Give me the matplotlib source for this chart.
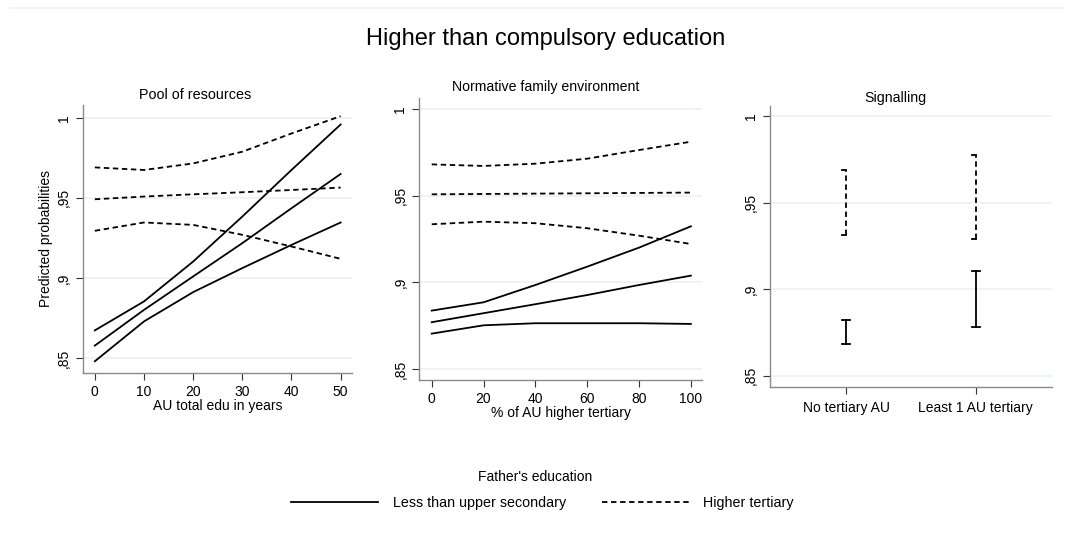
import numpy as np
import matplotlib.pyplot as plt
from matplotlib.lines import Line2D

# Predicted probabilities by father's education (solid: less than upper secondary, dashed: higher tertiary)
# Each series: lower CI, estimate, upper CI

# Pool of resources
pool_x = [0, 10, 20, 30, 40, 50]
pool_low_lo = [0.8479, 0.8728, 0.8911, 0.9061, 0.9206, 0.9346]
pool_low_mid = [0.8577, 0.8800, 0.9009, 0.9217, 0.9435, 0.9649]
pool_low_hi = [0.8672, 0.8853, 0.9102, 0.9383, 0.9674, 0.9958]
pool_high_lo = [0.9294, 0.9346, 0.9331, 0.9269, 0.9196, 0.9119]
pool_high_mid = [0.9491, 0.9508, 0.9522, 0.9535, 0.9549, 0.9564]
pool_high_hi = [0.9690, 0.9674, 0.9715, 0.9788, 0.9902, 1.0010]

# Normative family environment
norm_x = [0, 20, 40, 60, 80, 100]
norm_low_lo = [0.8704, 0.8752, 0.8764, 0.8764, 0.8764, 0.8760]
norm_low_mid = [0.8770, 0.8822, 0.8874, 0.8927, 0.8985, 0.9039]
norm_low_hi = [0.8837, 0.8885, 0.8985, 0.9091, 0.9201, 0.9324]
norm_high_lo = [0.9336, 0.9351, 0.9342, 0.9313, 0.9270, 0.9222]
norm_high_mid = [0.9509, 0.9511, 0.9513, 0.9515, 0.9517, 0.9519]
norm_high_hi = [0.9682, 0.9673, 0.9686, 0.9715, 0.9765, 0.9813]

# Signalling
sig_cats = ["No tertiary AU", "Least 1 AU tertiary"]
sig_low_lo = [0.8685, 0.8784]
sig_low_hi = [0.8822, 0.9106]
sig_high_lo = [0.9312, 0.9289]
sig_high_hi = [0.9686, 0.9774]

yticks = [0.85, 0.9, 0.95, 1.0]
ytick_labels = [",85", ",9", ",95", "1"]

grid_col = "#eaf2f3"
spine_col = "#8a8a8a"
dash = (0, (3, 2))

plt.rcParams['font.family'] = ['Liberation Sans', 'DejaVu Sans']

fig = plt.figure(figsize=(10.74, 5.4), dpi=100)
fig.add_artist(Line2D([0.008, 0.992], [0.985, 0.985], color=grid_col, lw=1.2))

ax1 = fig.add_axes([0.0773, 0.3093, 0.2504, 0.4963])
ax2 = fig.add_axes([0.3904, 0.2963, 0.2630, 0.5217])
ax3 = fig.add_axes([0.7170, 0.2828, 0.2622, 0.5209])


def style(ax, ylim):
    ax.set_ylim(*ylim)
    ax.set_yticks(yticks)
    ax.set_yticklabels(ytick_labels, rotation=90, va='center', fontsize=10)
    ax.tick_params(axis='both', direction='out', length=5, width=0.8,
                   color='#333333', labelsize=10)
    for s in ['top', 'right']:
        ax.spines[s].set_visible(False)
    for s in ['left', 'bottom']:
        ax.spines[s].set_color(spine_col)
        ax.spines[s].set_linewidth(1.0)
    for y in yticks:
        ax.axhline(y, color=grid_col, lw=1.2, zorder=0)


# Pool of resources
for s in [pool_low_lo, pool_low_mid, pool_low_hi]:
    ax1.plot(pool_x, s, color='black', lw=1.3)
for s in [pool_high_lo, pool_high_mid, pool_high_hi]:
    ax1.plot(pool_x, s, color='black', lw=1.3, linestyle=dash)
style(ax1, (0.8406, 1.008))
ax1.set_xlim(-2.4, 52.3)
ax1.set_xticks(pool_x)
ax1.set_xlabel("AU total edu in years", fontsize=10, labelpad=0)
ax1.set_ylabel("Predicted probabilities", fontsize=10, labelpad=3)
ax1.set_title("Pool of resources", fontsize=10.4, pad=4, x=0.416)

# Normative family environment
for s in [norm_low_lo, norm_low_mid, norm_low_hi]:
    ax2.plot(norm_x, s, color='black', lw=1.3)
for s in [norm_high_lo, norm_high_mid, norm_high_hi]:
    ax2.plot(norm_x, s, color='black', lw=1.3, linestyle=dash)
style(ax2, (0.8436, 1.0064))
ax2.set_xlim(-4.8, 104.2)
ax2.set_xticks(norm_x)
ax2.set_xlabel("% of AU higher tertiary", fontsize=10, labelpad=0)
ax2.set_title("Normative family environment", fontsize=10.2, pad=5, x=0.449)

# Signalling: range bars with caps
pos = np.arange(len(sig_cats))
cap = 0.03
for i in pos:
    ax3.plot([i, i], [sig_low_lo[i], sig_low_hi[i]], color='black', lw=1.3)
    for y in (sig_low_lo[i], sig_low_hi[i]):
        ax3.plot([i - cap, i + cap], [y, y], color='black', lw=1.3)
    ax3.plot([i, i], [sig_high_lo[i], sig_high_hi[i]], color='black', lw=1.3,
             linestyle=dash)
    for y in (sig_high_lo[i], sig_high_hi[i]):
        ax3.plot([i - cap, i], [y, y], color='black', lw=1.3)
style(ax3, (0.8433, 1.0058))
ax3.set_xlim(-0.587, 1.585)
ax3.set_xticks(pos)
ax3.set_xticklabels(sig_cats, fontsize=10)
ax3.tick_params(axis='x', pad=5)
ax3.set_title("Signalling", fontsize=10.2, pad=3, x=0.444)

fig.suptitle("Higher than compulsory education", fontsize=17, x=0.508, y=0.948)

# Shared legend
fig.text(0.498, 0.117, "Father's education", ha='center', va='center', fontsize=10)
handles = [Line2D([], [], color='black', lw=1.3),
           Line2D([], [], color='black', lw=1.3, linestyle=dash)]
fig.legend(handles, ["Less than upper secondary", "Higher tertiary"],
           loc='center', bbox_to_anchor=(0.505, 0.068), ncol=2, frameon=False,
           fontsize=10.3, handlelength=6.1, columnspacing=2.5, handletextpad=1.0)

fig.savefig("out.png", dpi=100)
